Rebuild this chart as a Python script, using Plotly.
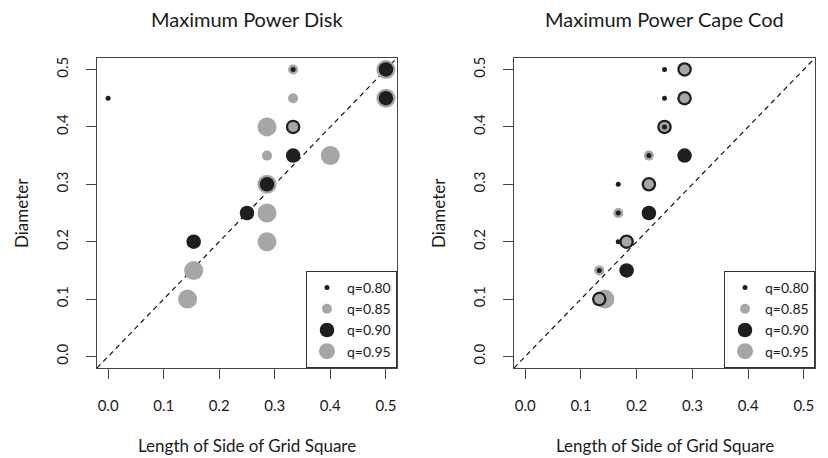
import plotly.graph_objects as go

# ---------------- data ----------------
q_labels = ["q=0.80", "q=0.85", "q=0.90", "q=0.95"]

disk_x_080 = [0.0, 0.333]
disk_y_080 = [0.45, 0.50]
disk_x_085 = [0.333, 0.333, 0.333, 0.286]
disk_y_085 = [0.50, 0.45, 0.40, 0.35]
disk_x_090 = [0.5, 0.5, 0.333, 0.333, 0.286, 0.25, 0.154]
disk_y_090 = [0.50, 0.45, 0.40, 0.35, 0.30, 0.25, 0.20]
disk_x_095 = [0.5, 0.5, 0.286, 0.4, 0.286, 0.286, 0.286, 0.154, 0.143]
disk_y_095 = [0.50, 0.45, 0.40, 0.35, 0.30, 0.25, 0.20, 0.15, 0.10]

cape_x_080 = [0.25, 0.25, 0.25, 0.222, 0.167, 0.167, 0.167, 0.133]
cape_y_080 = [0.50, 0.45, 0.40, 0.35, 0.30, 0.25, 0.20, 0.15]
cape_x_085 = [0.286, 0.286, 0.25, 0.222, 0.222, 0.167, 0.182, 0.133, 0.133]
cape_y_085 = [0.50, 0.45, 0.40, 0.35, 0.30, 0.25, 0.20, 0.15, 0.10]
cape_x_090 = [0.286, 0.286, 0.25, 0.286, 0.222, 0.222, 0.182, 0.182, 0.133]
cape_y_090 = [0.50, 0.45, 0.40, 0.35, 0.30, 0.25, 0.20, 0.15, 0.10]
cape_x_095 = [0.143]
cape_y_095 = [0.10]

tick_vals = [0.0, 0.1, 0.2, 0.3, 0.4, 0.5]
axis_range = [-0.02, 0.52]

panel_titles = ["Maximum Power Disk", "Maximum Power Cape Cod"]
x_title = "Length of Side of Grid Square"
y_title = "Diameter"

# ---------------- styles ----------------
BLACK = "#1e1e1e"
GRAY = "#a6a6a6"
colors = [BLACK, GRAY, BLACK, GRAY]
sizes = [5, 10, 14.5, 19]
FONT = "Lato"
TXT = "#1a1a1a"
W, H = 828, 458

fig = go.Figure()

panels = [
    ([disk_x_080, disk_x_085, disk_x_090, disk_x_095],
     [disk_y_080, disk_y_085, disk_y_090, disk_y_095], "x", "y", "legend"),
    ([cape_x_080, cape_x_085, cape_x_090, cape_x_095],
     [cape_y_080, cape_y_085, cape_y_090, cape_y_095], "x2", "y2", "legend2"),
]

for xs, ys, xa, ya, lg in panels:
    # draw largest first so smaller markers sit on top
    for i in [3, 2, 1, 0]:
        fig.add_trace(go.Scatter(
            x=xs[i], y=ys[i], mode="markers", name=q_labels[i],
            xaxis=xa, yaxis=ya, legend=lg, legendrank=i + 1,
            marker=dict(color=colors[i], size=sizes[i], line=dict(width=0)),
            hoverinfo="x+y+name",
        ))
    fig.add_shape(type="line", xref=xa, yref=ya,
                  x0=axis_range[0], y0=axis_range[0],
                  x1=axis_range[1], y1=axis_range[1],
                  line=dict(color="#111111", width=1.2, dash="5px,4px"),
                  layer="below")

xdoms = [[97 / W, 397 / W], [514 / W, 815 / W]]
ydom = [1 - 368 / H, 1 - 58 / H]

axis_common = dict(
    range=axis_range, tickvals=tick_vals, tickformat=".1f",
    showgrid=False, zeroline=False, showline=True, mirror=True,
    linecolor="#444444", linewidth=1, ticks="outside", ticklen=10,
    tickcolor="#444444", tickwidth=1,
    tickfont=dict(family=FONT, size=15, color=TXT),
)

fig.update_layout(
    width=W, height=H,
    margin=dict(l=0, r=0, t=0, b=0),
    paper_bgcolor="white", plot_bgcolor="white",
    font=dict(family=FONT, color=TXT),
    xaxis=dict(domain=xdoms[0], anchor="y", ticklabelstandoff=14, **axis_common),
    yaxis=dict(domain=ydom, anchor="x", tickangle=-90, ticklabelstandoff=12, **axis_common),
    xaxis2=dict(domain=xdoms[1], anchor="y2", ticklabelstandoff=14, **axis_common),
    yaxis2=dict(domain=ydom, anchor="x2", tickangle=-90, ticklabelstandoff=12, **axis_common),
    showlegend=True,
)

legend_common = dict(
    xanchor="right", yanchor="bottom", y=ydom[0],
    bgcolor="white", bordercolor="#333333", borderwidth=1,
    font=dict(family=FONT, size=14, color=TXT),
    itemsizing="trace", tracegroupgap=0,
    itemclick=False, itemdoubleclick=False,
)
fig.update_layout(
    legend=dict(x=xdoms[0][1], **legend_common),
    legend2=dict(x=xdoms[1][1], **legend_common),
)

annotations = []
for k in range(2):
    cx = (xdoms[k][0] + xdoms[k][1]) / 2
    annotations.append(dict(text=panel_titles[k], x=cx, y=1 - 19 / H,
                            xref="paper", yref="paper", showarrow=False,
                            xanchor="center", yanchor="middle",
                            font=dict(family=FONT, size=20, color=TXT)))
    annotations.append(dict(text=x_title, x=cx, y=1 - 445 / H,
                            xref="paper", yref="paper", showarrow=False,
                            xanchor="center", yanchor="middle",
                            font=dict(family=FONT, size=17, color=TXT)))
    annotations.append(dict(text=y_title, x=(xdoms[k][0] * W - 75) / W,
                            y=(ydom[0] + ydom[1]) / 2,
                            xref="paper", yref="paper", showarrow=False,
                            xanchor="center", yanchor="middle", textangle=-90,
                            font=dict(family=FONT, size=17, color=TXT)))
fig.update_layout(annotations=annotations)

fig.write_html("out.html",
               config={"displayModeBar": False},
               post_script="document.body.style.margin='0';document.body.style.overflow='hidden';")
